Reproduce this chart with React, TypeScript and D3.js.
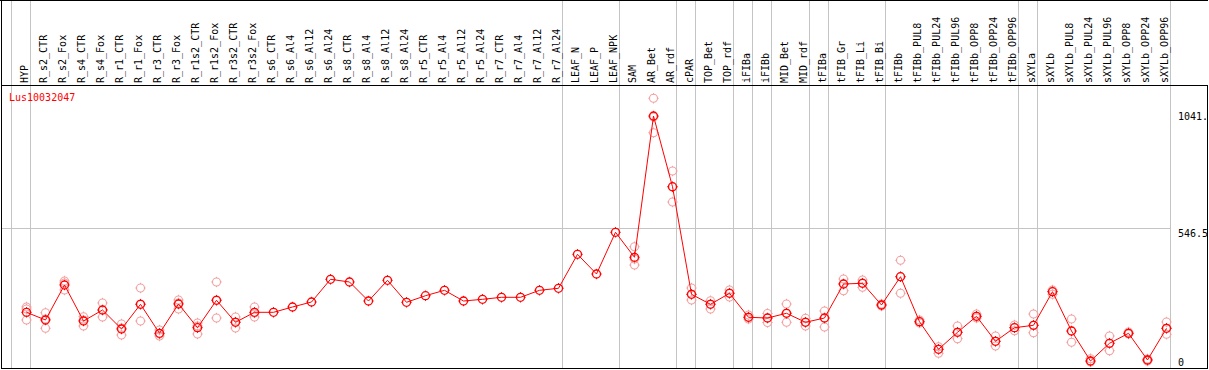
import React from 'react';
import * as d3 from 'd3';

const geneId = 'Lus10032047';

const samples = [
  'HYP', 'R_s2_CTR', 'R_s2_Fox', 'R_s4_CTR', 'R_s4_Fox', 'R_r1_CTR', 'R_r1_Fox', 'R_r3_CTR', 'R_r3_Fox',
  'R_r1s2_CTR', 'R_r1s2_Fox', 'R_r3s2_CTR', 'R_r3s2_Fox', 'R_s6_CTR', 'R_s6_Al4', 'R_s6_Al12', 'R_s6_Al24',
  'R_s8_CTR', 'R_s8_Al4', 'R_s8_Al12', 'R_s8_Al24', 'R_r5_CTR', 'R_r5_Al4', 'R_r5_Al12', 'R_r5_Al24',
  'R_r7_CTR', 'R_r7_Al4', 'R_r7_Al12', 'R_r7_Al24', 'LEAF_N', 'LEAF_P', 'LEAF_NPK', 'SAM', 'AR_Bet', 'AR_rdf',
  'cPAR', 'TOP_Bet', 'TOP_rdf', 'iFIBa', 'iFIBb', 'MID_Bet', 'MID_rdf', 'tFIBa', 'tFIB_Gr', 'tFIB_Li', 'tFIB_Bi',
  'tFIBb', 'tFIBb_PUL8', 'tFIBb_PUL24', 'tFIBb_PUL96', 'tFIBb_OPP8', 'tFIBb_OPP24', 'tFIBb_OPP96',
  'sXYLa', 'sXYLb', 'sXYLb_PUL8', 'sXYLb_PUL24', 'sXYLb_PUL96', 'sXYLb_OPP8', 'sXYLb_OPP24', 'sXYLb_OPP96'
];

// group separators (index of first sample of each tissue group)
const groupBreaks = [0, 1, 29, 32, 35, 36, 38, 39, 40, 42, 43, 46, 53, 54, 61];

const means = [
  212.0, 179.5, 327.3, 175.3, 221.7, 141.5, 245.8, 123.3, 247.1, 147.0, 262.7, 169.8, 212.0,
  212.0, 234.4, 255.5, 351.4, 340.0, 259.7, 347.1, 254.2, 282.1, 304.9, 259.7, 266.9, 275.3, 275.3,
  304.9, 313.4, 456.9, 373.7, 549.8, 444.3, 1041.0, 742.4, 288.0, 245.8, 292.2, 190.9, 187.9, 207.8,
  169.8, 187.9, 331.5, 334.5, 242.8, 362.3, 172.3, 55.7, 127.5, 195.1, 89.5, 147.0, 157.1, 299.0,
  133.0, 6.3, 81.1, 123.3, 10.6, 144.4
];

const replicates: number[][] = [
  [234.4, 225.9, 179.5], [210.3, 183.7, 144.4], [344.2, 335.7, 306.2], [193.4, 179.5, 154.1],
  [251.3, 221.7, 192.2], [162.6, 145.7, 116.1], [314.6, 247.1, 175.3], [137.3, 120.4, 111.9],
  [263.9, 251.3, 225.9], [166.8, 154.1, 120.4], [340.0, 263.9, 187.9], [192.2, 171.0, 145.7],
  [234.4, 209.0, 192.2],
  [], [], [], [], [], [], [], [], [], [], [], [], [], [], [], [], [], [], [],
  [489.0, 437.1, 411.7], [1115.7, 1036.8, 970.5], [808.7, 741.2, 677.8], [314.6, 288.0, 263.9],
  [261.0, 247.1, 225.9], [306.2, 293.5, 276.6], [200.6, 192.2, 183.7], [206.9, 187.9, 168.9],
  [247.1, 209.0, 169.8], [186.7, 171.0, 154.1], [217.5, 187.9, 149.9], [352.6, 331.5, 303.2],
  [348.4, 335.7, 317.6], [247.1, 242.8, 238.6], [431.6, 362.3, 292.2], [179.5, 172.3, 166.8],
  [66.7, 55.7, 38.9], [154.1, 127.5, 100.5], [204.8, 195.1, 187.9], [111.9, 89.5, 69.7],
  [158.4, 147.0, 134.3], [204.8, 157.1, 125.8], [306.2, 299.0, 288.0], [183.7, 133.0, 85.3],
  [16.0, 6.3, 2.1], [111.9, 81.1, 49.8], [128.8, 123.3, 120.4], [14.8, 10.6, 6.3], [171.0, 144.4, 119.1]
];

const axisLabels = [
  { v: 1041, text: '1041.' },
  { v: 546.5, text: '546.5' },
  { v: 0, text: '0' }
];

const W = 1209;
const H = 370;
const headerBottom = 85.5;
const plotBottom = 368.5;
const font = '"DejaVu Sans Mono", monospace';

// circle with four small ticks, like the old applet glyph
const Marker = ({ x, y, color, sw }: { x: number; y: number; color: string; sw: number }) => {
  const r = 4;
  const t = 1.2;
  return (
    <g stroke={color} fill="none">
      <circle cx={x} cy={y} r={r} strokeWidth={sw} />
      <g strokeWidth={1}>
        <line x1={x} y1={y - r - t} x2={x} y2={y - r} />
        <line x1={x} y1={y + r} x2={x} y2={y + r + t} />
        <line x1={x - r - t} y1={y} x2={x - r} y2={y} />
        <line x1={x + r} y1={y} x2={x + r + t} y2={y} />
      </g>
    </g>
  );
};

export default function App() {
  const x = d3.scaleBand<string>().domain(samples).range([11, 1170]).padding(0);
  const px = (s: string) => (x(s) as number) + 15.5;
  const y = d3.scaleLinear().domain([0, 1041]).range([362.5, 116]);

  const line = d3
    .line<number>()
    .x((_, i) => px(samples[i]))
    .y((d) => y(d));

  const gridY = Math.round(y(546.5) - 5) + 0.5;

  return (
    <svg
      width={W}
      height={H}
      style={{ position: 'absolute', left: 0, top: 0, background: '#fff' }}
      fontFamily={font}
      fontSize={10}
    >
      {/* group separators */}
      {groupBreaks.map((g) => {
        const gx = 11 + g * x.bandwidth() + 0.5;
        return <line key={g} x1={gx} x2={gx} y1={0} y2={plotBottom} stroke="#c4c4c4" strokeWidth={1} />;
      })}
      <line x1={1} x2={1170} y1={gridY} y2={gridY} stroke="#c4c4c4" strokeWidth={1} />

      {/* frame */}
      <line x1={0} x2={W - 1} y1={0.5} y2={0.5} stroke="#000" />
      <line x1={1} x2={1208} y1={headerBottom} y2={headerBottom} stroke="#000" />
      <line x1={1} x2={1208} y1={plotBottom} y2={plotBottom} stroke="#000" />
      <line x1={1.5} x2={1.5} y1={0} y2={plotBottom} stroke="#000" />
      <line x1={1207.5} x2={1207.5} y1={headerBottom} y2={plotBottom} stroke="#000" />

      {/* sample labels */}
      {samples.map((s) => {
        const lx = (x(s) as number) + 17;
        return (
          <text key={s} transform={`translate(${lx},83) rotate(-90)`} fill="#000">
            {s}
          </text>
        );
      })}

      <text x={9} y={101} fill="#ff0000">
        {geneId}
      </text>

      {axisLabels.map((a) => (
        <text key={a.text} x={1178} y={y(a.v) + 3.5} fill="#000">
          {a.text}
        </text>
      ))}

      {/* replicates */}
      {replicates.map((reps, i) =>
        reps.map((v, j) => <Marker key={`${i}-${j}`} x={px(samples[i])} y={y(v)} color="#f2a0a0" sw={1.1} />)
      )}

      <path d={line(means) || ''} fill="none" stroke="#ff0000" strokeWidth={1} />

      {means.map((v, i) => (
        <Marker key={i} x={px(samples[i])} y={y(v)} color="#ff0000" sw={1.3} />
      ))}
    </svg>
  );
}
